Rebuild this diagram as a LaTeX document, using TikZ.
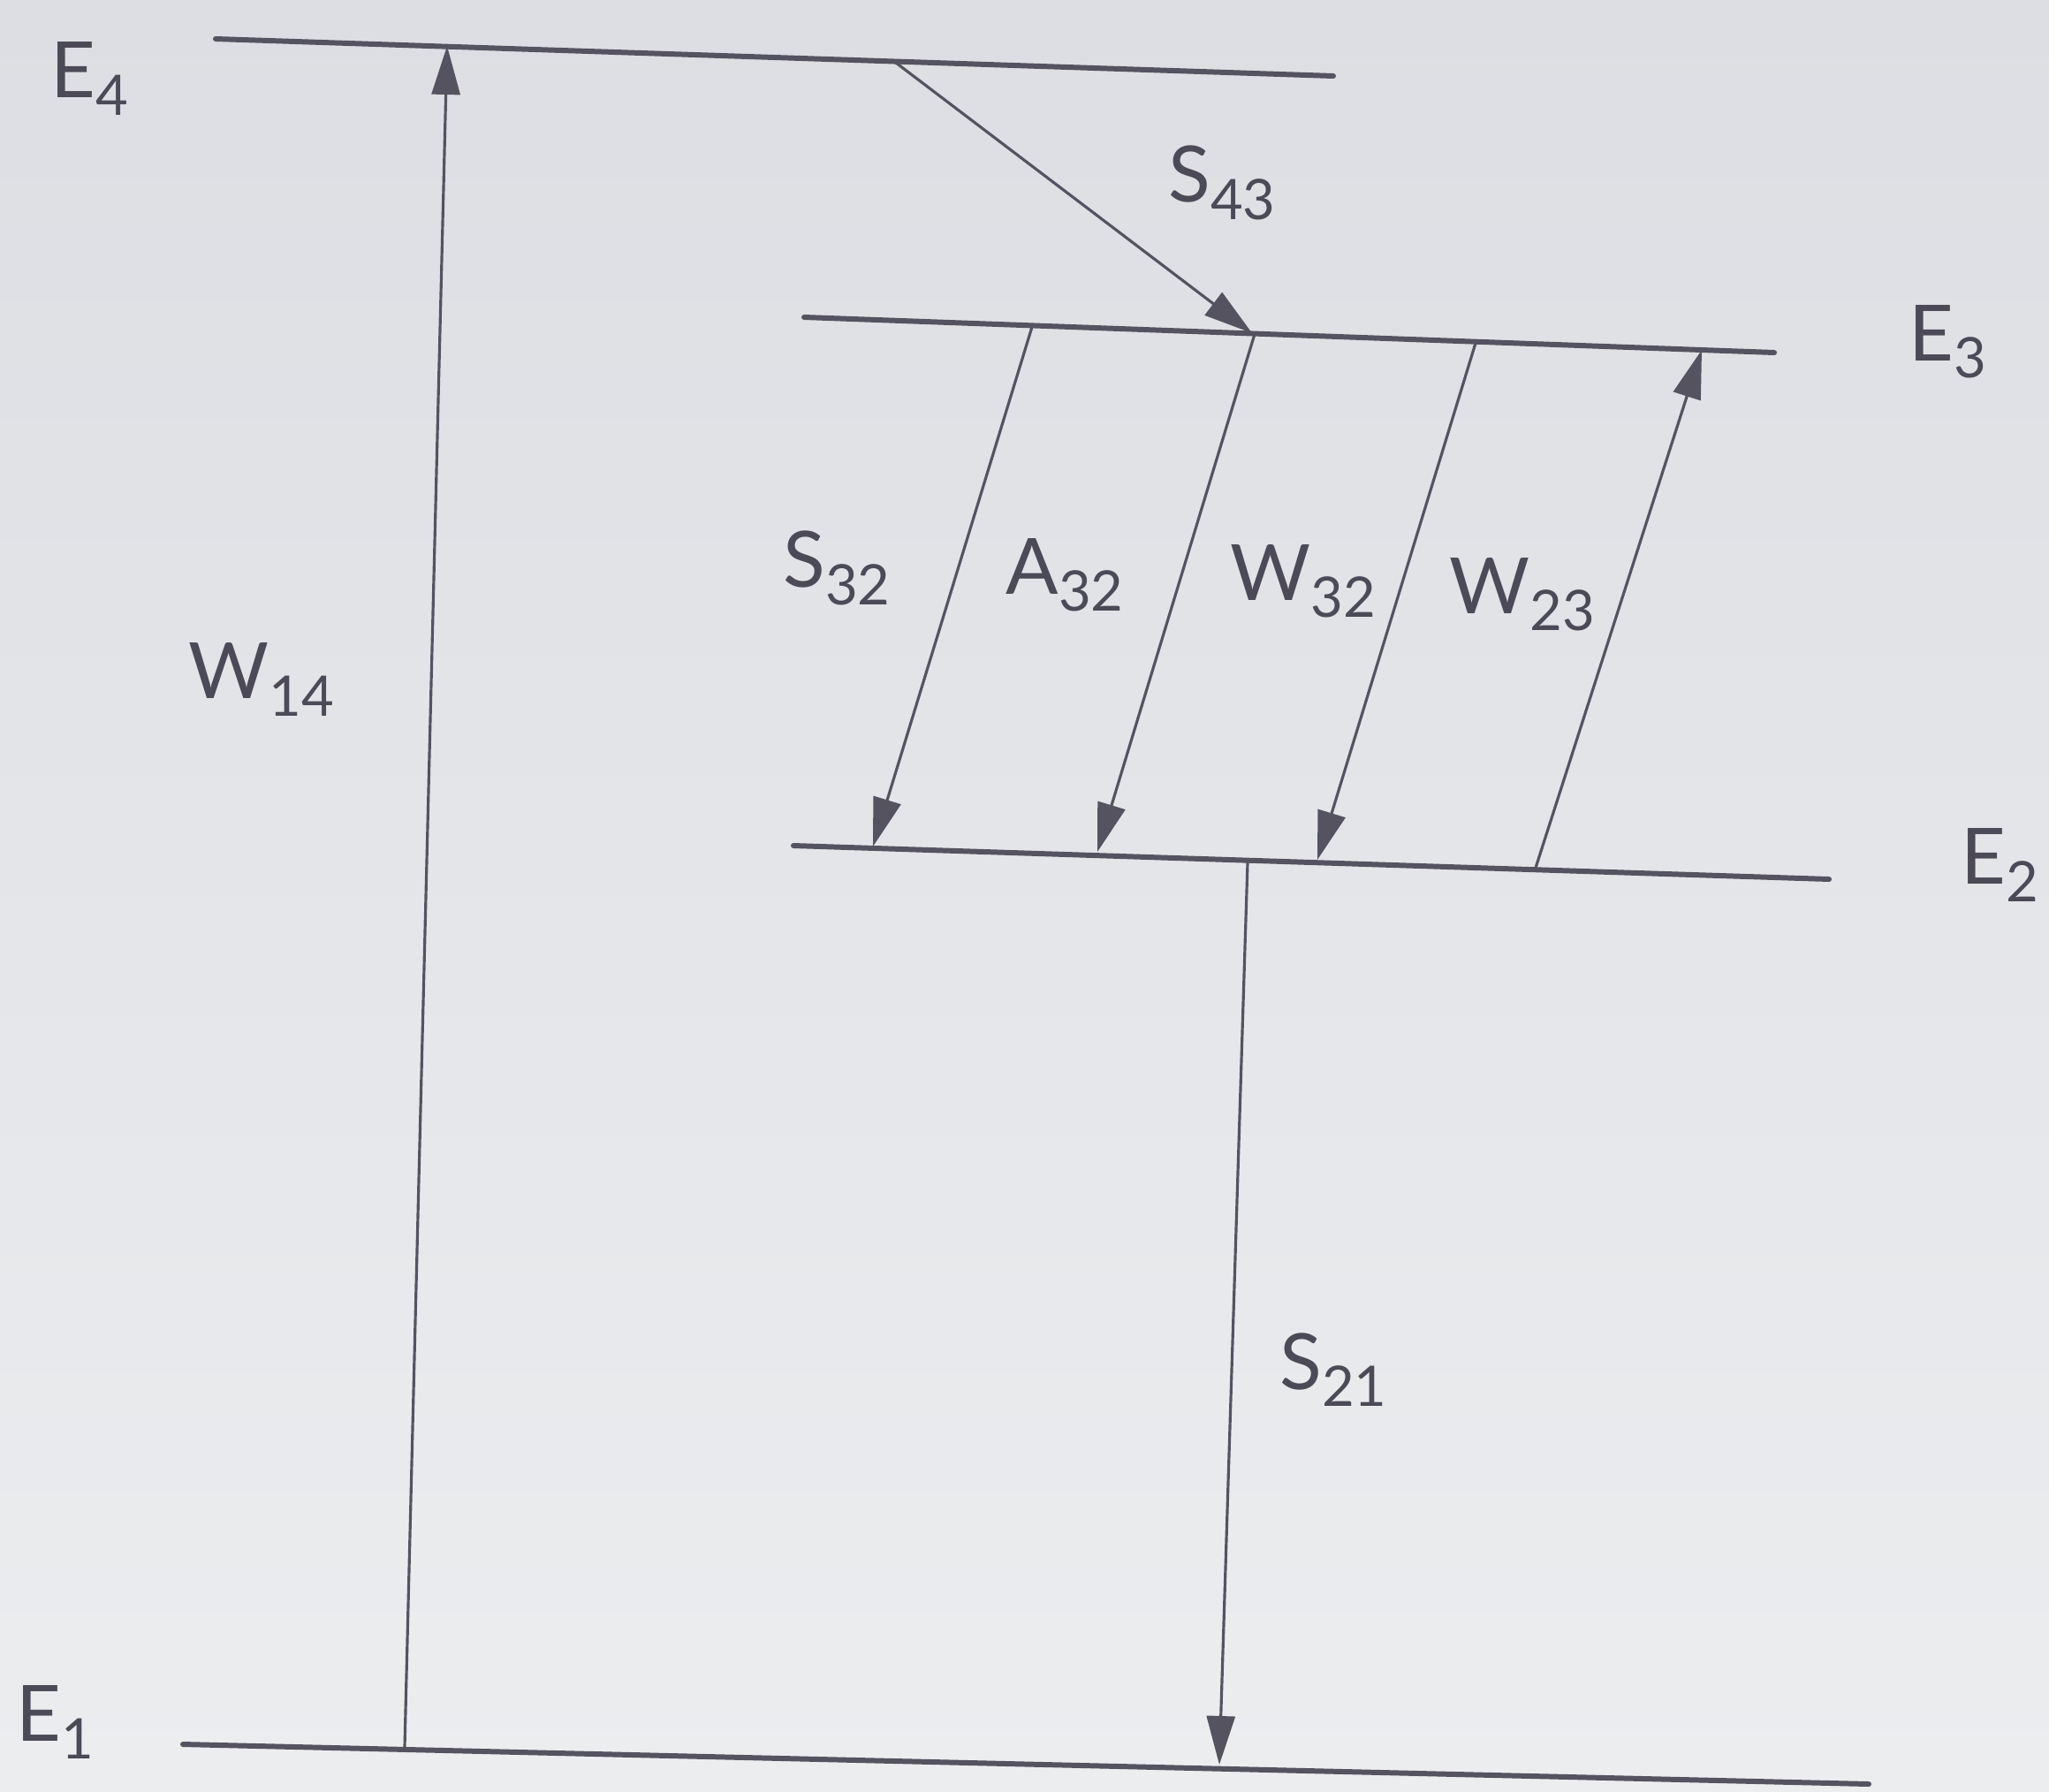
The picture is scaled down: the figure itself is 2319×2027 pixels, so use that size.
\documentclass[tikz,border=0pt]{standalone}
\usepackage{fontspec}
\setmainfont{Lato}
\usetikzlibrary{arrows.meta}
\definecolor{ink}{HTML}{55535F}
\definecolor{inktext}{HTML}{4C4A56}
\definecolor{papertop}{HTML}{DCDEE3}
\definecolor{paperbot}{HTML}{ECEDEF}
\newcommand{\lvl}[2]{#1\raisebox{-0.22em}{\fontsize{18}{18}\selectfont #2}}
\tikzset{
  eline/.style={line width=1.7pt, draw=ink, line cap=round},
  trans/.style={line width=0.9pt, draw=ink, -{Triangle[length=5.5mm,width=3.2mm]}, fill=ink},
  lbl/.style={text=inktext, font=\fontsize{25}{28}\selectfont, inner sep=0pt}
}
\begin{document}
\begin{tikzpicture}[x=0.01cm, y=-0.01cm]
\shade[top color=papertop, bottom color=paperbot] (0,0) rectangle (2319,2027);
\useasboundingbox (0,0) rectangle (2319,2027);

\coordinate (e4l) at (244,44);  \coordinate (e4r) at (1509,86);
\coordinate (e3l) at (910,359); \coordinate (e3r) at (2008,399);
\coordinate (e2l) at (898,957); \coordinate (e2r) at (2070,995);
\coordinate (e1l) at (207,1974); \coordinate (e1r) at (2115,2019);

\draw[eline] (e4l) -- (e4r);
\draw[eline] (e3l) -- (e3r);
\draw[eline] (e2l) -- (e2r);
\draw[eline] (e1l) -- (e1r);

\node[lbl] (E4) at (101,89) {\lvl{E}{4}};
\node[lbl] (E3) at (2204,387) {\lvl{E}{3}};
\node[lbl] (E2) at (2263,979) {\lvl{E}{2}};
\node[lbl] (E1) at (62,1949) {\lvl{E}{1}};

\coordinate (w14a) at (458,1977); \coordinate (w14b) at (506,52);
\coordinate (s43a) at (1010,68);  \coordinate (s43b) at (1417,377);
\coordinate (s32a) at (1168,370); \coordinate (s32b) at (988,958);
\coordinate (a32a) at (1420,378); \coordinate (a32b) at (1242,964);
\coordinate (w32a) at (1671,385); \coordinate (w32b) at (1491,973);
\coordinate (w23a) at (1738,982); \coordinate (w23b) at (1926,396);
\coordinate (s21a) at (1412,976); \coordinate (s21b) at (1380,1997);

\draw[trans] (w14a) -- (w14b);
\draw[trans] (s43a) -- (s43b);
\draw[trans] (s32a) -- (s32b);
\draw[trans] (a32a) -- (a32b);
\draw[trans] (w32a) -- (w32b);
\draw[trans] (w23a) -- (w23b);
\draw[trans] (s21a) -- (s21b);

\node[lbl] (W14) at (296,769) {\lvl{W}{14}};
\node[lbl] (S43) at (1383,207) {\lvl{S}{43}};
\node[lbl] (S32) at (947,643) {\lvl{S}{32}};
\node[lbl] (A32) at (1205,651) {\lvl{A}{32}};
\node[lbl] (W32) at (1475,658) {\lvl{W}{32}};
\node[lbl] (W23) at (1723,673) {\lvl{W}{23}};
\node[lbl] (S21) at (1509,1550) {\lvl{S}{21}};
\end{tikzpicture}
\end{document}
